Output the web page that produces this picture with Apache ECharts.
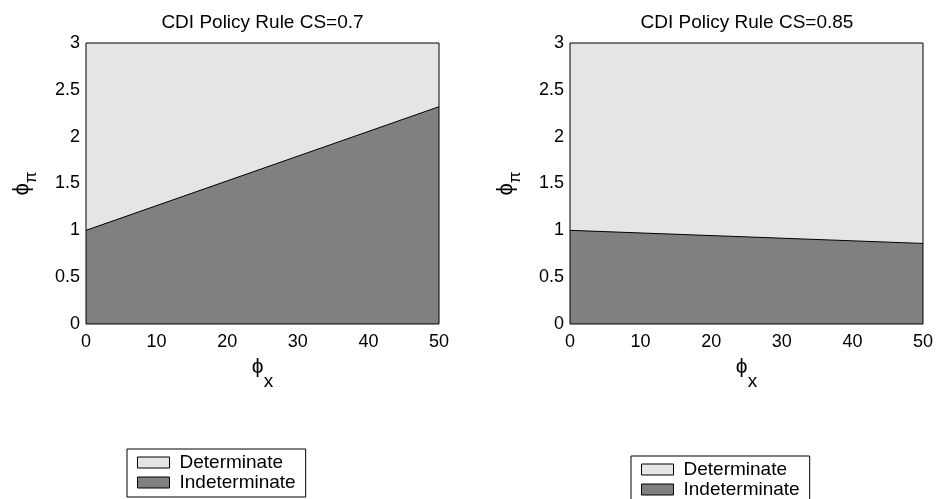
<!DOCTYPE html>
<html>
<head>
<meta charset="utf-8">
<script src="https://cdn.jsdelivr.net/npm/echarts@6/dist/echarts.min.js"></script>
<style>
html,body{margin:0;padding:0;background:#fff;}
#chart{width:936px;height:499px;}
</style>
</head>
<body>
<div id="chart"></div>
<script>
// ---- data ----
const xValues = [0, 50];
const upperBound = [3, 3];
const boundaryCS070 = [1.0, 2.32];
const boundaryCS085 = [1.0, 0.86];
const titles = ['CDI Policy Rule CS=0.7', 'CDI Policy Rule CS=0.85'];
const legendNames = ['Determinate', 'Indeterminate'];

const FONT = 'Liberation Sans, Arial, Helvetica, sans-serif';
const LIGHT = '#e5e5e5';
const DARK = '#808080';

const chart = echarts.init(document.getElementById('chart'), null, {renderer: 'canvas'});

function pairs(ys) { return xValues.map((x, i) => [x, ys[i]]); }

const grids = [
  {left: 86, top: 43, width: 353, height: 281},
  {left: 570, top: 43, width: 354, height: 281}
];

const xName = {
  name: '{a|ϕ}{b|x}',
  nameLocation: 'middle',
  nameGap: 33,
  nameTextStyle: {
    rich: {
      a: {fontFamily: FONT, fontSize: 21, color: '#000', verticalAlign: 'top'},
      b: {fontFamily: FONT, fontSize: 19, color: '#000', padding: [15, 0, 0, 0]}
    }
  }
};
const yName = {
  name: '{a|ϕ}{b|π}',
  nameLocation: 'middle',
  nameRotate: 90,
  nameGap: 46,
  nameTextStyle: {
    rich: {
      a: {fontFamily: FONT, fontSize: 22, color: '#000', verticalAlign: 'top'},
      b: {fontFamily: FONT, fontSize: 17, color: '#000', padding: [12, 0, 0, 0]}
    }
  }
};

const axisLabel = {color: '#000', fontFamily: FONT, fontSize: 18};

const option = {
  animation: false,
  backgroundColor: '#fff',
  grid: grids.map(g => Object.assign({show: true, z: 10, borderColor: '#000', borderWidth: 1, backgroundColor: 'transparent'}, g)),
  xAxis: [0, 1].map(i => Object.assign({
    type: 'value', gridIndex: i, min: 0, max: 50, interval: 10,
    axisLine: {show: false}, axisTick: {show: false}, splitLine: {show: false},
    axisLabel: Object.assign({margin: 9}, axisLabel)
  }, xName)),
  yAxis: [0, 1].map(i => Object.assign({
    type: 'value', gridIndex: i, min: 0, max: 3, interval: 0.5,
    axisLine: {show: false}, axisTick: {show: false}, splitLine: {show: false},
    axisLabel: Object.assign({margin: 6}, axisLabel)
  }, yName)),
  legend: [
    {left: 127, top: 449},
    {left: 631, top: 456}
  ].map(p => Object.assign({
    orient: 'vertical',
    height: 60,
    borderColor: '#000', borderWidth: 1,
    padding: [4, 10, 5, 10],
    itemWidth: 32, itemHeight: 11, itemGap: 1,
    selectedMode: false,
    textStyle: {color: '#000', fontFamily: FONT, fontSize: 19, padding: [0, 0, 0, 5]},
    data: [
      {name: legendNames[0], icon: 'rect', itemStyle: {color: LIGHT, borderColor: '#000', borderWidth: 1}},
      {name: legendNames[1], icon: 'rect', itemStyle: {color: DARK, borderColor: '#000', borderWidth: 1}}
    ]
  }, p)),
  graphic: titles.map((t, i) => ({
    type: 'text',
    x: grids[i].left + grids[i].width / 2,
    y: 23,
    style: {text: t, align: 'center', verticalAlign: 'middle', font: '19px ' + FONT, fill: '#000'}
  })),
  series: []
};

[boundaryCS070, boundaryCS085].forEach((b, i) => {
  option.series.push({
    name: legendNames[0], type: 'line', xAxisIndex: i, yAxisIndex: i,
    data: pairs(upperBound), showSymbol: false, symbol: 'none',
    lineStyle: {width: 0}, itemStyle: {color: LIGHT},
    areaStyle: {color: LIGHT, opacity: 1}, silent: true
  });
  option.series.push({
    name: legendNames[1], type: 'line', xAxisIndex: i, yAxisIndex: i,
    data: pairs(b), showSymbol: false, symbol: 'none',
    lineStyle: {width: 1, color: '#000'}, itemStyle: {color: DARK},
    areaStyle: {color: DARK, opacity: 1}, silent: true
  });
});

chart.setOption(option);
</script>
</body>
</html>
